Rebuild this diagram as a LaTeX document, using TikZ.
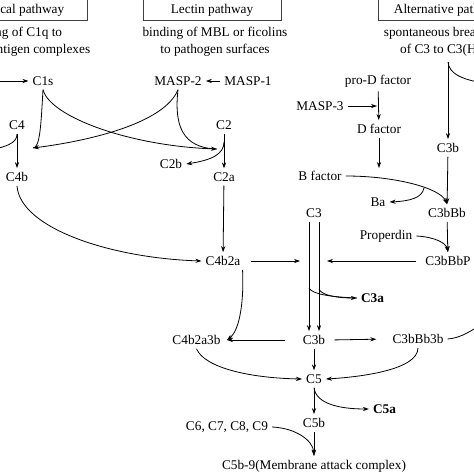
\documentclass[tikz,border=0pt]{standalone}
\usepackage{fontspec}
\setmainfont{Liberation Serif}
\usetikzlibrary{arrows.meta}
\begin{document}
\begin{tikzpicture}[x=1pt,y=-1pt,
  lbl/.style={font=\fontsize{13.3}{16}\selectfont, inner sep=4pt},
  bld/.style={font=\fontsize{13.3}{16}\selectfont\bfseries, inner sep=4pt},
  sub/.style={font=\fontsize{13.3}{17}\selectfont, align=center, inner sep=0pt},
  pbox/.style={draw=black!75, line width=0.7pt, minimum height=21pt, font=\fontsize{13.3}{16}\selectfont, inner sep=0pt},
  arr/.style={line width=0.8pt, -{Stealth[length=6pt,width=4.2pt]}},
  ln/.style={line width=0.8pt}]
\useasboundingbox (0,0) rectangle (474,474);
\clip (0,0) rectangle (474,474);

% pathway boxes and subtitles
\node[pbox, minimum width=142pt] (bCl) at (16,10) {Classical pathway};
\node[pbox, minimum width=138pt] (bLe) at (212,10) {Lectin pathway};
\node[pbox, minimum width=140pt] (bAl) at (448,10) {Alternative pathway};
\node[sub] (sCl) at (15,41.5) {binding of C1q to\\antibody-antigen complexes};
\node[sub] (sLe) at (215,41.5) {binding of MBL or ficolins\\to pathogen surfaces};
\node[sub] (sAl) at (448,41.5) {spontaneous breakdown\\of C3 to C3(H\textsubscript{2}O)};

% nodes
\node[lbl] (C1s) at (43,81) {C1s};
\node[lbl] (C4) at (17,125) {C4};
\node[lbl] (C4b) at (17,177) {C4b};
\node[lbl] (MASP2) at (178,81) {MASP-2};
\node[lbl] (MASP1) at (248,81) {MASP-1};
\node[lbl] (C2) at (224,125) {C2};
\node[lbl] (C2b) at (171,164) {C2b};
\node[lbl] (C2a) at (224,177) {C2a};
\node[lbl] (C4b2a) at (223,261) {C4b2a};
\node[lbl] (C3) at (314,213) {C3};
\node[lbl] (proD) at (378,81) {pro-D factor};
\node[lbl] (MASP3) at (320,106) {MASP-3};
\node[lbl] (Dfac) at (379,129) {D factor};
\node[lbl] (Bfac) at (320,176) {B factor};
\node[lbl] (Ba) at (378,202) {Ba};
\node[lbl] (C3bA) at (448,148) {C3b};
\node[lbl] (C3bBb) at (447,213) {C3bBb};
\node[lbl] (Prop) at (386,236) {Properdin};
\node[lbl] (C3bBbP) at (448,261) {C3bBbP};
\node[bld] (C3a) at (372.5,298) {C3a};
\node[lbl] (C4b2a3b) at (196.5,340) {C4b2a3b};
\node[lbl] (C3b) at (314,340) {C3b};
\node[lbl] (C3bBb3b) at (418,339) {C3bBb3b};
\node[lbl] (C5) at (314,379) {C5};
\node[bld] (C5a) at (384.5,409) {C5a};
\node[lbl] (C5b) at (314,423) {C5b};
\node[lbl] (C69) at (227,427) {C6, C7, C8, C9};
\node[lbl] (MAC) at (314,466) {C5b-9(Membrane attack complex)};

% junction / free-end coordinates
\coordinate (C1in) at (-10,81);
\coordinate (C4j) at (17,134);
\coordinate (C4aout) at (-20,152);
\coordinate (C4hit) at (33,148);
\coordinate (C2hit) at (217,149);
\coordinate (C2j) at (224,142);
\coordinate (C3hitL) at (300,261);
\coordinate (C3hitR) at (327,261);
\coordinate (C3jL) at (309,288);
\coordinate (C3jR) at (319,289);
\coordinate (H2Oj) at (448,62);
\coordinate (H2Oout) at (490,84);
\coordinate (Dhit) at (377,106);
\coordinate (Bhit) at (379,168);
\coordinate (Baj) at (424,188);
\coordinate (C43hit) at (227,340);
\coordinate (C3bBb3bout) at (492,318);

% classical / lectin
\draw[arr] (C1in) -- (C1s);
\draw[arr] (C4) -- (C4b);
\draw[ln] (C4j) .. controls (17,143) and (8,147) .. (C4aout);
\draw[ln] (C1s.south) .. controls (41,125) and (40,148) .. (C4hit);
\draw[arr] (MASP2.south) .. controls (165,122) and (95,140) .. (C4hit);
\draw[arr] (C1s.south) .. controls (50,117) and (130,146) .. (C2hit);
\draw[ln] (MASP2.south) .. controls (174,125) and (182,148) .. (C2hit);
\draw[arr] (MASP1) -- (MASP2);
\draw[arr] (C2) -- (C2a);
\draw[arr] (C2j) .. controls (224,154) and (212,160) .. (C2b.east);
\draw[arr] (C2a) -- (C4b2a);
\draw[arr] (C4b.south) .. controls (20,228) and (110,258) .. (C4b2a.west);
\draw[arr, shorten <=6pt] (C4b2a.east) -- (C3hitL);

% C3 and C3a
\draw[arr] ([xshift=-5pt]C3.south) -- ([xshift=-5pt]C3b.north);
\draw[arr] ([xshift=5pt]C3.south) -- ([xshift=5pt]C3b.north);
\draw[ln] (C3jL) .. controls (312,294) and (330,297) .. (C3a.west);
\draw[arr] (C3jR) .. controls (321,295) and (336,298) .. (C3a.west);

% alternative
\draw[arr] (H2Oj) -- (C3bA);
\draw[ln] (H2Oj) .. controls (449,73) and (460,80) .. (H2Oout);
\draw[arr] (C3bA) -- (C3bBb);
\draw[arr] (proD) -- (Dfac);
\draw[arr] (MASP3) -- (Dhit);
\draw[arr] (Dfac) -- (Bhit);
\draw[arr] (Bfac.east) .. controls (395,176) and (440,188) .. (C3bBb.north);
\draw[arr] (Baj) .. controls (422,198) and (410,201) .. (Ba.east);
\draw[arr] (Prop.east) .. controls (435,237) and (446,243) .. (C3bBbP.north);
\draw[arr] (C3bBb) -- (C3bBbP);
\draw[arr, shorten <=5pt] (C3bBbP.west) -- (C3hitR);

% lower part
\draw[arr] ([xshift=-2pt]C4b2a.south east) .. controls (244,300) and (240,330) .. (C43hit);
\draw[arr, shorten <=14pt] (C3b.west) -- (C43hit);
\draw[arr, shorten <=5pt, shorten >=12pt] (C3b.east) -- (C3bBb3b.west);
\draw[ln] (C3bBb3b.east) .. controls (462,338) and (472,330) .. (C3bBb3bout);
\draw[arr] (C3bBb3b.south) .. controls (418,370) and (360,377) .. (C5.east);
\draw[arr] (C4b2a3b.south) .. controls (205,368) and (250,378) .. (C5.west);
\draw[arr] (C3b) -- (C5);
\draw[arr] (C5) -- (C5b);
\draw[arr] (C5.south) .. controls (316,404) and (340,409) .. (C5a.west);
\draw[arr] (C5b) -- (MAC);
\draw[arr] (C69.east) .. controls (295,428) and (313,440) .. (MAC.north);
\end{tikzpicture}
\end{document}
